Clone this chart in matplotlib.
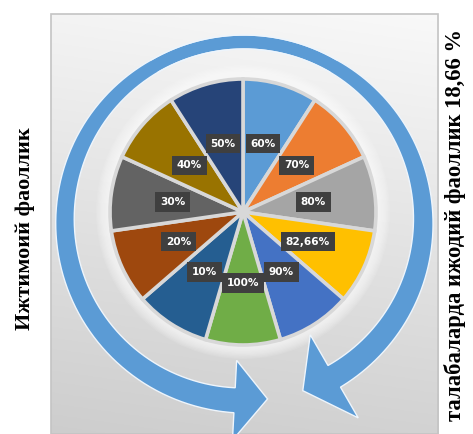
import numpy as np
import matplotlib
matplotlib.use("Agg")
import matplotlib.pyplot as plt
from matplotlib.patches import Polygon, Circle, Rectangle

# ---- data ----
slice_labels = ["60%", "70%", "80%", "82,66%", "90%", "100%",
                "10%", "20%", "30%", "40%", "50%"]
slice_sizes = [1, 1, 1, 1, 1, 1, 1, 1, 1, 1, 1]
slice_colors = ["#5B9BD5", "#ED7D31", "#A5A5A5", "#FFC000", "#4472C4", "#70AD47",
                "#255E91", "#9E480E", "#636363", "#997300", "#264478"]
left_title = "Ижтимоий фаоллик"
right_title = "талабаларда ижодий фаоллик 18,66 %"

W, H = 473, 434
fig = plt.figure(figsize=(W / 100, H / 100), dpi=100)
ax = fig.add_axes([0, 0, 1, 1])
ax.set_xlim(0, W)
ax.set_ylim(0, H)
ax.set_aspect("auto")
ax.axis("off")
fig.patch.set_facecolor("white")

# ---- gray gradient panel ----
px0, px1, py0, py1 = 51, 438, 0, 420
ny, nx = 200, 200
yy, xx = np.mgrid[0:1:ny * 1j, 0:1:nx * 1j]
val = 0.955 - 0.15 * yy + 0.02 * xx
val = np.clip(val, 0, 1)
img = np.dstack([val, val, val])
ax.imshow(img, extent=(px0, px1, py0, py1), origin="upper", zorder=0, aspect="auto")
ax.add_patch(Rectangle((px0, py0), px1 - px0, py1 - py0, fill=False,
                       edgecolor="#c4c4c4", lw=1.2, zorder=0.5))

# ---- pie ----
pcx, pcy, pr = 243, 222, 133
for k in range(10):
    ax.add_patch(Circle((pcx, pcy), pr + 14 - k * 1.2, color="white",
                        alpha=0.10, lw=0, zorder=1))
wedges, texts = ax.pie(slice_sizes, colors=slice_colors, labels=slice_labels,
                       startangle=90, counterclock=False, center=(pcx, pcy),
                       radius=pr, labeldistance=0.535, frame=True,
                       wedgeprops=dict(edgecolor="#d8d8d8", linewidth=2.6),
                       textprops=dict(color="white", fontsize=7.6, fontweight="bold",
                                      family="DejaVu Sans"))
for w in wedges:
    w.set_zorder(2)
for t in texts:
    t.set_ha("center")
    t.set_va("center")
    t.set_zorder(4)
    t.set_bbox(dict(boxstyle="square,pad=0.45", facecolor="#3f3f3f",
                    edgecolor="none"))
ax.set_xlim(0, W)
ax.set_ylim(0, H)
ax.axis("off")

# ---- circular arrows ----
rcx, rcy = 244, 214
RIN0, ROUT0, RIN1, ROUT1 = 171, 185, 168, 193


def arc_arrow(t0, t1, head_half, tip_deg, color="#5B9BD5"):
    thd = np.linspace(t0, t1, 300)
    d = np.abs(thd - 90)
    dend = abs(t1 - 90)
    f = np.clip((d - 30) / (dend - 30), 0, 1)
    th = np.radians(thd)
    rin = RIN0 + (RIN1 - RIN0) * f
    rout = ROUT0 + (ROUT1 - ROUT0) * f
    outer = np.column_stack([rcx + rout * np.cos(th), rcy + rout * np.sin(th)])
    inner = np.column_stack([rcx + rin * np.cos(th), rcy + rin * np.sin(th)])
    rm = (RIN1 + ROUT1) / 2
    tb = np.radians(t1)
    base_in = (rcx + (rm - head_half) * np.cos(tb), rcy + (rm - head_half) * np.sin(tb))
    base_out = (rcx + (rm + head_half) * np.cos(tb), rcy + (rm + head_half) * np.sin(tb))
    tt = np.radians(tip_deg)
    tip = (rcx + rm * np.cos(tt), rcy + rm * np.sin(tt))
    pts = list(outer) + [base_out, tip, base_in] + list(inner[::-1])
    ax.add_patch(Polygon(pts, closed=True, facecolor=color, edgecolor="none",
                         zorder=3))
    return np.array(pts)


o1 = arc_arrow(60, 267, 40, 277.5)
o2 = arc_arrow(120, -60, 48, -71)
for o in (o1, o2):
    ax.plot(o[:, 0], o[:, 1], color="#eef5fc", lw=1.0, zorder=3.2,
            solid_joinstyle="miter")

# ---- side titles ----
ax.text(25, 205, left_title, rotation=90, ha="center", va="center",
        fontsize=16, fontweight="bold", family="Liberation Serif", color="black")
ax.text(455, 209, right_title, rotation=90, ha="center", va="center",
        fontsize=16.3, fontweight="bold", family="Liberation Serif", color="black")

fig.savefig("out.png", dpi=100, facecolor="white")
